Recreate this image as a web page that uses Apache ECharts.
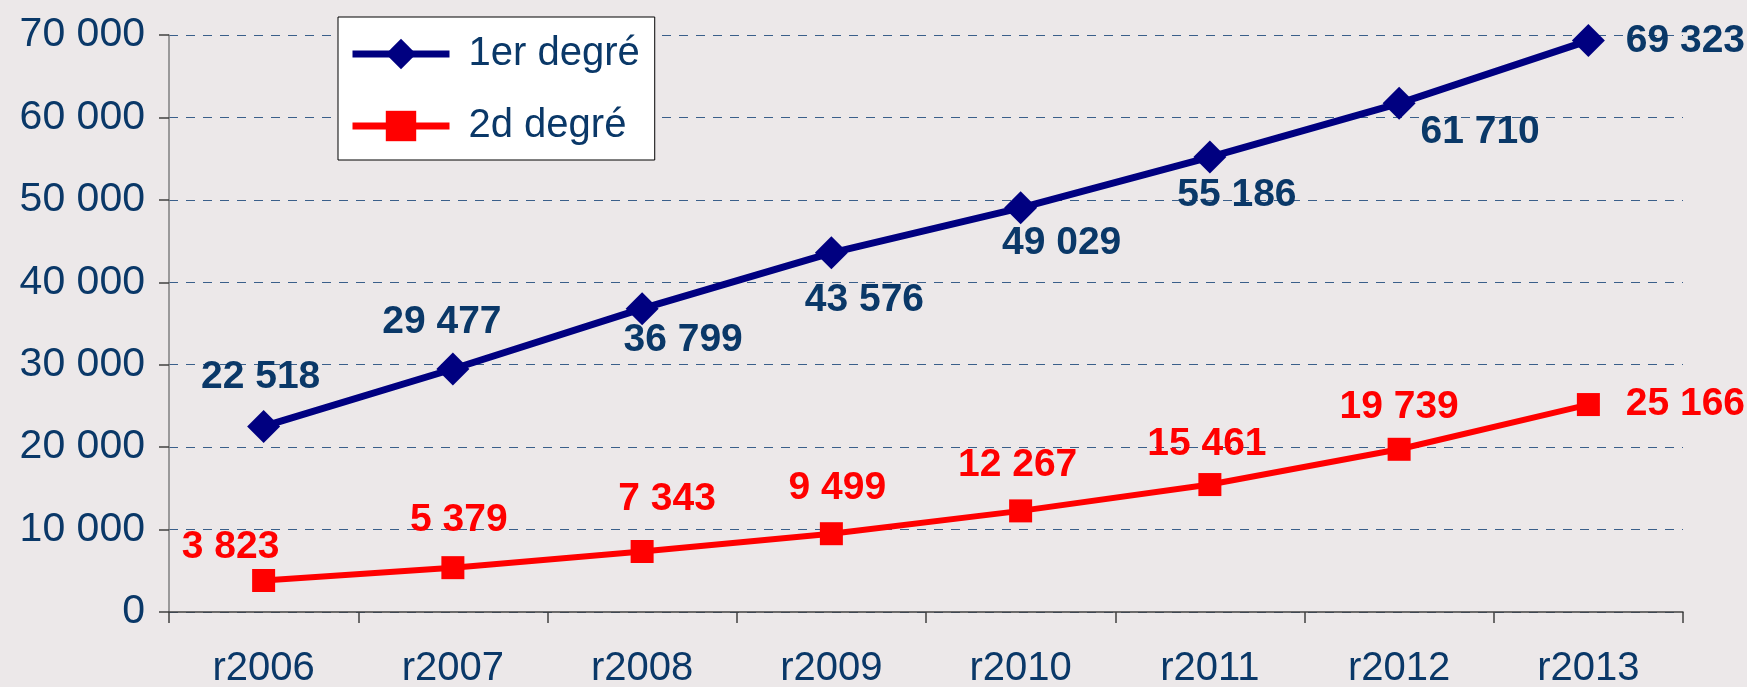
<!DOCTYPE html>
<html>
<head>
<meta charset="utf-8">
<script src="https://cdn.jsdelivr.net/npm/echarts@6/dist/echarts.min.js"></script>
<style>
  html, body { margin: 0; padding: 0; background: #ece8e9; }
  #chart { width: 1747px; height: 687px; }
</style>
</head>
<body>
<div id="chart"></div>
<script>
// Données
const years = ['r2006', 'r2007', 'r2008', 'r2009', 'r2010', 'r2011', 'r2012', 'r2013'];
const premierDegre = [22518, 29477, 36799, 43576, 49029, 55186, 61710, 69323];
const secondDegre = [3823, 5379, 7343, 9499, 12267, 15461, 19739, 25166];
const yTicks = { min: 0, max: 70000, step: 10000 };

// placement des étiquettes (décalage en px autour du point)
const offsets1 = [[-3, -49], [-11, -47], [41, 32], [33, 47], [41, 35], [27, 38], [81, 29], [97, 1]];
const offsets2 = [[-33, -33], [6, -47], [25, -52], [6, -45], [-3, -46], [-3, -40], [0, -42], [97, 0]];

const FONT = '"Liberation Sans", Arial, sans-serif';
const TEXT_BLUE = '#0a3868';
const fmt = (v) => String(v).replace(/\B(?=(\d{3})+(?!\d))/g, ' ');

const withLabels = (values, offs) => values.map((v, i) => ({
  value: v,
  label: { offset: offs[i] },
}));

const chart = echarts.init(document.getElementById('chart'));
chart.setOption({
  backgroundColor: '#ece8e9',
  animation: false,
  grid: { left: 169, right: 64, top: 35, bottom: 75, outerBoundsMode: 'none', containLabel: false },
  legend: {
    orient: 'vertical',
    left: 338, top: 17,
    padding: [17, 15, 14, 11],
    itemGap: 32,
    itemWidth: 97, itemHeight: 38,
    backgroundColor: '#ffffff',
    borderColor: '#000000', borderWidth: 1,
    textStyle: { fontFamily: FONT, fontSize: 40, color: TEXT_BLUE, padding: [0, 0, 0, 14] },
    data: [
      { name: '1er degré', lineStyle: { width: 7, color: '#000080' } },
      { name: '2d degré', lineStyle: { width: 7, color: '#ff0000' } },
    ],
  },
  xAxis: {
    type: 'category',
    data: years,
    boundaryGap: true,
    axisLine: { lineStyle: { color: '#404040', width: 1.5 } },
    axisTick: { show: true, length: 11, lineStyle: { color: '#404040', width: 1.5 } },
    axisLabel: { fontFamily: FONT, fontSize: 40, color: TEXT_BLUE, margin: 37 },
  },
  yAxis: {
    type: 'value',
    min: yTicks.min, max: yTicks.max, interval: yTicks.step,
    axisLine: { show: true, lineStyle: { color: '#7f7f7f', width: 1.5 } },
    axisTick: { show: true, length: 10, lineStyle: { color: '#404040', width: 1.5 } },
    axisLabel: { fontFamily: FONT, fontSize: 41, color: TEXT_BLUE, margin: 24, formatter: fmt },
    splitLine: { show: true, lineStyle: { color: '#3a5f8a', type: [9, 8], width: 1.2 } },
  },
  series: [
    {
      name: '1er degré',
      type: 'line',
      data: withLabels(premierDegre, offsets1),
      symbol: 'diamond',
      symbolSize: 33,
      lineStyle: { color: '#000080', width: 7 },
      itemStyle: { color: '#000080' },
      label: {
        show: true, position: 'inside',
        fontFamily: FONT, fontSize: 39, fontWeight: 'bold', color: TEXT_BLUE,
        formatter: (p) => fmt(p.value),
      },
      z: 3,
    },
    {
      name: '2d degré',
      type: 'line',
      data: withLabels(secondDegre, offsets2),
      symbol: 'rect',
      symbolSize: 23,
      lineStyle: { color: '#ff0000', width: 6 },
      itemStyle: { color: '#ff0000' },
      label: {
        show: true, position: 'inside',
        fontFamily: FONT, fontSize: 39, fontWeight: 'bold', color: '#ff0000',
        formatter: (p) => fmt(p.value),
      },
      z: 2,
    },
  ],
});
</script>
</body>
</html>
